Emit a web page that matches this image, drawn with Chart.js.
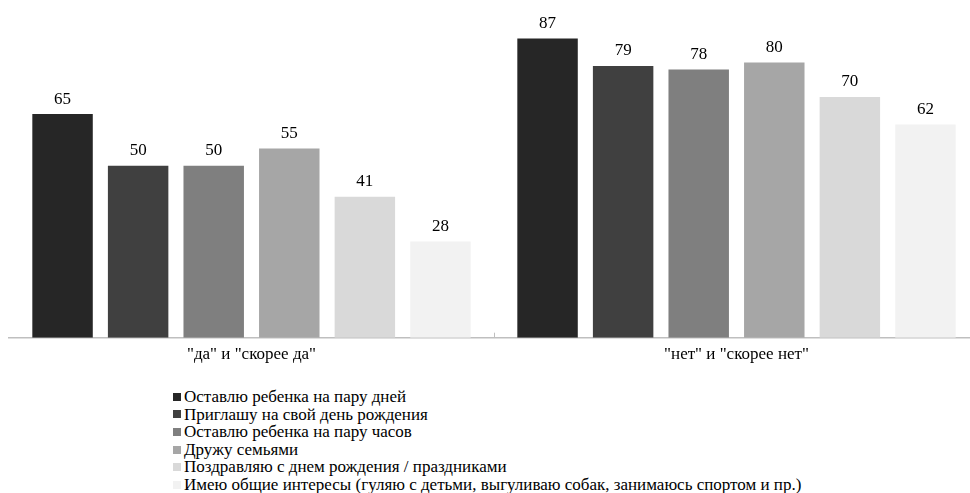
<!DOCTYPE html>
<html>
<head>
<meta charset="utf-8">
<script src="https://cdn.jsdelivr.net/npm/chart.js@4"></script>
<style>
  html, body { margin: 0; padding: 0; background: #fff; overflow: hidden; width: 970px; height: 493px; }
  #wrap { position: absolute; left: 0; top: 0; width: 988px; height: 370px; }
  #legend { position: absolute; left: 173px; top: 388px; font-family: "Liberation Serif", "DejaVu Serif", "Times New Roman", Tinos, serif; font-size: 17px; line-height: 17.6px; color: #000; white-space: nowrap; }
  #legend .item { display: flex; align-items: center; height: 17.6px; }
  #legend .box { display: inline-block; width: 8px; height: 8px; margin-right: 3px; }
</style>
</head>
<body>
<div id="wrap"><canvas id="c"></canvas></div>
<div id="legend"></div>
<script>
const categories = ['"да" и "скорее да"', '"нет" и "скорее нет"'];
const seriesNames = [
  'Оставлю ребенка на пару дней',
  'Приглашу на свой день рождения',
  'Оставлю ребенка на пару часов',
  'Дружу семьями',
  'Поздравляю с днем рождения / праздниками',
  'Имею общие интересы (гуляю с детьми, выгуливаю собак, занимаюсь спортом и пр.)'
];
const seriesA = [65, 87];
const seriesB = [50, 79];
const seriesC = [50, 78];
const seriesD = [55, 80];
const seriesE = [41, 70];
const seriesF = [28, 62];
const seriesColors = ['#262626', '#404040', '#7f7f7f', '#a6a6a6', '#d9d9d9', '#f2f2f2'];
const seriesValues = [seriesA, seriesB, seriesC, seriesD, seriesE, seriesF];

const FONT = '"Liberation Serif", "DejaVu Serif", "Times New Roman", Tinos, serif';

const valueLabels = {
  id: 'valueLabels',
  afterDatasetsDraw(chart) {
    const ctx = chart.ctx;
    ctx.save();
    ctx.font = '17px ' + FONT;
    ctx.fillStyle = '#000';
    ctx.textAlign = 'center';
    ctx.textBaseline = 'middle';
    chart.data.datasets.forEach((ds, i) => {
      const meta = chart.getDatasetMeta(i);
      meta.data.forEach((el, j) => {
        ctx.fillText(String(ds.data[j]), el.x, el.y - 15);
      });
    });
    ctx.restore();
  }
};

const midTick = {
  id: 'midTick',
  afterDraw(chart) {
    const xs = chart.scales.x;
    const ctx = chart.ctx;
    const x = Math.round((xs.getPixelForValue(0) + xs.getPixelForValue(1)) / 2) + 0.5;
    const y = chart.chartArea.bottom;
    ctx.save();
    ctx.strokeStyle = '#bfbfbf';
    ctx.lineWidth = 1;
    ctx.beginPath();
    ctx.moveTo(x, y - 5);
    ctx.lineTo(x, y);
    ctx.stroke();
    ctx.restore();
  }
};

const chart = new Chart(document.getElementById('c'), {
  type: 'bar',
  data: {
    labels: categories,
    datasets: seriesNames.map((name, i) => ({
      label: name,
      data: seriesValues[i],
      backgroundColor: seriesColors[i],
      borderWidth: 0,
      categoryPercentage: 0.935,
      barPercentage: 0.8
    }))
  },
  options: {
    responsive: true,
    maintainAspectRatio: false,
    animation: false,
    devicePixelRatio: 1,
    layout: { padding: { left: 9, right: 9, top: 10.9, bottom: 2.3 } },
    plugins: {
      legend: { display: false },
      tooltip: { enabled: false }
    },
    scales: {
      x: {
        grid: { display: false, drawTicks: false },
        border: { display: true, color: '#bfbfbf', width: 1.5 },
        ticks: { color: '#000', font: { family: FONT, size: 17 }, padding: 7 },
        afterFit(scale) { scale.height = 30; }
      },
      y: {
        display: false,
        min: 0,
        max: 95
      }
    }
  },
  plugins: [valueLabels, midTick]
});

const legendEl = document.getElementById('legend');
chart.data.datasets.forEach(ds => {
  const item = document.createElement('div');
  item.className = 'item';
  const box = document.createElement('span');
  box.className = 'box';
  box.style.background = ds.backgroundColor;
  const txt = document.createElement('span');
  txt.textContent = ds.label;
  item.appendChild(box);
  item.appendChild(txt);
  legendEl.appendChild(item);
});
</script>
</body>
</html>
